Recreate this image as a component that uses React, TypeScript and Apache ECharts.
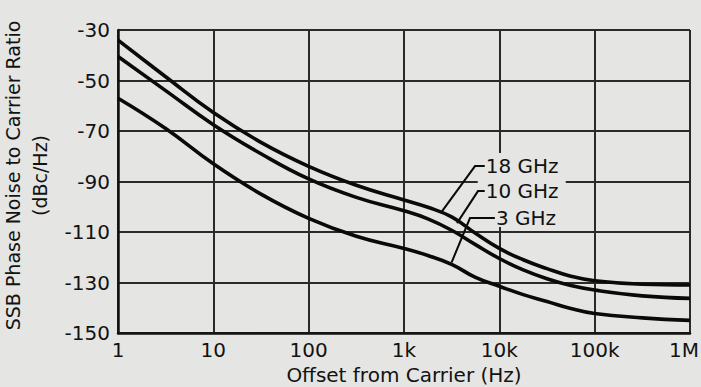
import React, { useEffect, useRef } from 'react';
import * as echarts from 'echarts';

// Offset from carrier (Hz)
const offsets = [1, 3.16, 10, 31.6, 100, 316, 1000, 1780, 3160, 5620, 10000, 17800, 31600, 56200, 100000, 316000, 1000000];
// SSB phase noise (dBc/Hz)
const noise18GHz = [-34, -48.5, -62.7, -74.5, -84, -91.5, -97.3, -100.2, -104, -110.5, -116.5, -121, -124.5, -127.5, -129.3, -130.7, -131];
const noise10GHz = [-40.5, -54, -67.5, -79, -89, -96.3, -101.6, -104.8, -109.3, -115, -120.5, -125, -128.5, -131.2, -133, -135.3, -136.3];
const noise3GHz = [-57, -69, -83, -95, -104.6, -111.7, -116.5, -119.3, -122.8, -128, -131.5, -134.8, -137.5, -140.3, -142.3, -144, -145];
const seriesNames = ['18 GHz', '10 GHz', '3 GHz'];
const xTickLabels = ['1', '10', '100', '1k', '10k', '100k', '1M'];

// Callout leader lines, in data coordinates: point on curve, elbow, text anchor
const calloutCurvePoints = [[2500, -101.8], [3600, -106.5], [3160, -122]];
const calloutElbows = [[5560, -83.9], [5970, -93.8], [4920, -104.5]];
const calloutTextAnchors = [[7200, -83.9], [7200, -93.8], [9200, -104.5]];

const FONT = '"DejaVu Sans", "Liberation Sans", Arial, sans-serif';
const INK = '#121212';
const PAPER = '#e5e5e3';

export default function App() {
  const ref = useRef<HTMLDivElement>(null);
  useEffect(() => {
    if (!ref.current) return;
    const chart = echarts.init(ref.current, undefined, { renderer: 'svg' });
    const mk = (vals: number[], name: string) => ({
      name,
      type: 'line',
      data: offsets.map((f, i) => [f, vals[i]]),
      smooth: 0.45,
      showSymbol: false,
      symbol: 'none',
      lineStyle: { color: '#0a0a0a', width: 3.6 },
      z: 5,
    });
    chart.setOption({
      animation: false,
      backgroundColor: PAPER,
      grid: { left: 118, right: 11, top: 30, bottom: 54, outerBoundsMode: 'none', containLabel: false },
      xAxis: {
        type: 'log',
        logBase: 10,
        min: 1,
        max: 1000000,
        axisLine: { show: true, lineStyle: { color: INK, width: 2.5 } },
        axisTick: { show: false },
        splitLine: { show: true, lineStyle: { color: '#2a2a2a', width: 2 } },
        axisLabel: {
          formatter: (v: number) => {
            const i = Math.round(Math.log10(v));
            return i === xTickLabels.length - 1 ? '{last|' + xTickLabels[i] + '}' : xTickLabels[i];
          },
          rich: { last: { fontSize: 20, color: INK, fontFamily: FONT, padding: [0, 12, 0, 0] } },
          fontSize: 20,
          color: INK,
          fontFamily: FONT,
          margin: 7,
          showMaxLabel: true,
          showMinLabel: true,
        },
        name: 'Offset from Carrier (Hz)',
        nameLocation: 'middle',
        nameGap: 32,
        nameTextStyle: { fontSize: 20, color: INK, fontFamily: FONT },
      },
      yAxis: {
        type: 'value',
        min: -150,
        max: -30,
        interval: 20,
        axisLine: { show: true, lineStyle: { color: INK, width: 2.5 } },
        axisTick: { show: false },
        splitLine: { show: true, lineStyle: { color: '#2a2a2a', width: 2 } },
        axisLabel: { fontSize: 20, color: INK, fontFamily: FONT, margin: 8 },
        name: 'SSB Phase Noise to Carrier Ratio\n(dBc/Hz)',
        nameLocation: 'middle',
        nameRotate: 90,
        nameGap: 53,
        nameTextStyle: { fontSize: 19, color: INK, fontFamily: FONT, lineHeight: 27, padding: [0, 0, 0, 12] },
      },
      series: [mk(noise18GHz, seriesNames[0]), mk(noise10GHz, seriesNames[1]), mk(noise3GHz, seriesNames[2])],
    });

    const px = (p: number[]) => chart.convertToPixel({ gridIndex: 0 }, p) as number[];
    const graphic: any[] = [];
    const t0 = px(calloutTextAnchors[0]);
    const t2 = px(calloutTextAnchors[2]);
    graphic.push({
      type: 'rect',
      shape: { x: t0[0] - 8, y: t0[1] - 13, width: 88, height: t2[1] - t0[1] + 22 },
      style: { fill: PAPER },
      z: 8,
    });
    seriesNames.forEach((name, i) => {
      const a = px(calloutCurvePoints[i]);
      const b = px(calloutElbows[i]);
      const c = px(calloutTextAnchors[i]);
      graphic.push({
        type: 'polyline',
        shape: { points: [a, b, [c[0] - 1, b[1]]] },
        style: { stroke: '#0a0a0a', lineWidth: 2, fill: null },
        z: 10,
      });
      graphic.push({
        type: 'text',
        x: c[0],
        y: c[1],
        style: {
          text: name,
          fontSize: 20,
          fontFamily: FONT,
          fill: INK,
          align: 'left',
          verticalAlign: 'middle',
        },
        z: 10,
      });
    });
    chart.setOption({ graphic });

    return () => chart.dispose();
  }, []);
  return (
    <div
      ref={ref}
      style={{ position: 'fixed', left: 0, top: 0, width: 701, height: 387, background: PAPER }}
    />
  );
}
